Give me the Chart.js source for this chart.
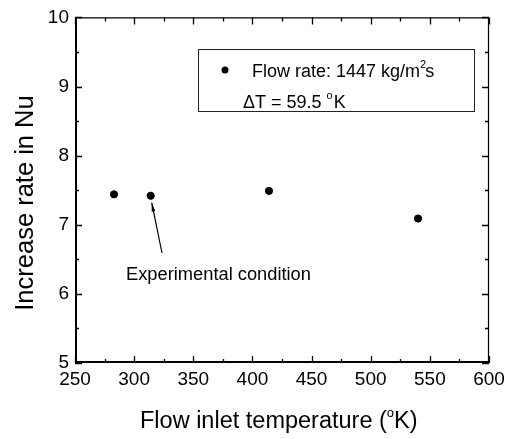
<!DOCTYPE html>
<html>
<head>
<meta charset="utf-8">
<script src="https://cdn.jsdelivr.net/npm/chart.js@4"></script>
<style>
html,body{margin:0;padding:0;background:#fff;}
#wrap{width:514px;height:439px;}
</style>
</head>
<body>
<div id="wrap"><canvas id="c" width="514" height="439"></canvas></div>
<script>
// Data
const inletTemperature = [283, 314, 414, 540];
const nuIncreaseRate = [7.44, 7.42, 7.49, 7.09];
const xTickLabels = [250, 300, 350, 400, 450, 500, 550, 600];
const yTickLabels = [5, 6, 7, 8, 9, 10];
const legendLines = ['Flow rate: 1447 kg/m', '\u0394T = 59.5 '];
const annotationText = 'Experimental condition';
const xTitle = 'Flow inlet temperature (';
const yTitle = 'Increase rate in Nu';

const FONT = '"Liberation Sans", Arial, sans-serif';
const CA = {left: 75, right: 489, top: 14, bottom: 363};

const framePlugin = {
  id: 'frame',
  afterDraw(chart) {
    const ctx = chart.ctx;
    const xs = chart.scales.x, ys = chart.scales.y;
    const L = xs.left, R = xs.right, T = ys.top, B = ys.bottom;
    ctx.save();
    ctx.strokeStyle = '#000';
    // frame
    ctx.lineWidth = 1.2;
    ctx.beginPath();
    ctx.moveTo(L, T + 0.5); ctx.lineTo(R, T + 0.5);
    ctx.moveTo(R - 0.5, T); ctx.lineTo(R - 0.5, B);
    ctx.stroke();
    ctx.lineWidth = 2;
    ctx.beginPath();
    ctx.moveTo(L + 1, T); ctx.lineTo(L + 1, B);
    ctx.moveTo(L, B - 1); ctx.lineTo(R, B - 1);
    ctx.stroke();
    // ticks
    ctx.lineWidth = 1.3;
    ctx.beginPath();
    for (let v = 250; v <= 600; v += 25) {
      const px = Math.round(xs.getPixelForValue(v)) + 0.5;
      const len = (v % 50 === 0) ? 7 : 4;
      ctx.moveTo(px, B); ctx.lineTo(px, B - len);
      ctx.moveTo(px, T); ctx.lineTo(px, T + len);
    }
    for (let v = 5; v <= 10; v += 0.5) {
      const py = Math.round(ys.getPixelForValue(v)) + 0.5;
      const len = (Math.abs(v - Math.round(v)) < 1e-6) ? 7 : 4;
      ctx.moveTo(L, py); ctx.lineTo(L + len, py);
      ctx.moveTo(R, py); ctx.lineTo(R - len, py);
    }
    ctx.stroke();

    // legend box
    ctx.lineWidth = 1;
    ctx.strokeStyle = '#222';
    ctx.strokeRect(198.5, 49.5, 276, 62);
    ctx.fillStyle = '#000';
    ctx.beginPath();
    ctx.arc(225, 70, 3.5, 0, Math.PI * 2);
    ctx.fill();
    ctx.font = '18px ' + FONT;
    ctx.textBaseline = 'alphabetic';
    ctx.textAlign = 'left';
    let x = 252, y = 77;
    ctx.fillText(legendLines[0], x, y);
    let w = ctx.measureText(legendLines[0]).width;
    ctx.font = '11px ' + FONT;
    ctx.fillText('2', x + w, y - 9);
    const w2 = ctx.measureText('2').width;
    ctx.font = '18px ' + FONT;
    ctx.fillText('s', x + w + w2 - 1, y);
    x = 243; y = 108;
    ctx.fillText(legendLines[1], x, y);
    w = ctx.measureText(legendLines[1]).width;
    ctx.font = '11px ' + FONT;
    ctx.fillText('o', x + w, y - 9);
    const wo = ctx.measureText('o').width;
    ctx.font = '18px ' + FONT;
    ctx.fillText('K', x + w + wo + 1, y);

    // annotation
    ctx.font = '18.3px ' + FONT;
    ctx.fillText(annotationText, 126, 280);
    const p = chart.getDatasetMeta(0).data[1];
    const tipX = p.x + 1, tipY = p.y + 7;
    const sx = 162, sy = 253;
    ctx.strokeStyle = '#000';
    ctx.lineWidth = 1.2;
    ctx.beginPath();
    ctx.moveTo(sx, sy); ctx.lineTo(tipX, tipY);
    ctx.stroke();
    const ang = Math.atan2(tipY - sy, tipX - sx);
    ctx.beginPath();
    ctx.moveTo(tipX, tipY);
    ctx.lineTo(tipX - 9 * Math.cos(ang - 0.2), tipY - 9 * Math.sin(ang - 0.2));
    ctx.lineTo(tipX - 9 * Math.cos(ang + 0.2), tipY - 9 * Math.sin(ang + 0.2));
    ctx.closePath();
    ctx.fill();

    // axis titles
    ctx.font = '23.5px ' + FONT;
    ctx.textAlign = 'left';
    x = 140; y = 428;
    ctx.fillText(xTitle, x, y);
    w = ctx.measureText(xTitle).width;
    ctx.font = '13px ' + FONT;
    ctx.fillText('o', x + w, y - 11);
    const wo2 = ctx.measureText('o').width;
    ctx.font = '23.5px ' + FONT;
    ctx.fillText('K)', x + w + wo2, y);

    ctx.save();
    ctx.translate(33, 203);
    ctx.rotate(-Math.PI / 2);
    ctx.textAlign = 'center';
    ctx.font = '25.5px ' + FONT;
    ctx.fillText(yTitle, 0, 0);
    ctx.restore();
    ctx.restore();
  }
};

new Chart(document.getElementById('c'), {
  type: 'scatter',
  data: {
    datasets: [{
      data: inletTemperature.map((t, i) => ({x: t, y: nuIncreaseRate[i]})),
      backgroundColor: '#000',
      borderColor: '#000',
      pointRadius: 3.6,
      pointHoverRadius: 3.6
    }]
  },
  options: {
    responsive: false,
    animation: false,
    devicePixelRatio: 1,
    layout: {padding: {left: 0, right: 514 - CA.right, top: CA.top, bottom: 0}},
    plugins: {legend: {display: false}, tooltip: {enabled: false}},
    scales: {
      x: {
        type: 'linear', min: 250, max: 600,
        afterFit(s) { s.height = 439 - CA.bottom; },
        afterBuildTicks(s) { s.ticks = xTickLabels.map(v => ({value: v})); },
        grid: {display: false, drawTicks: false},
        border: {display: false},
        ticks: {color: '#000', font: {family: FONT, size: 19}, padding: 5, maxRotation: 0, autoSkip: false}
      },
      y: {
        type: 'linear', min: 5, max: 10,
        afterFit(s) { s.width = CA.left; },
        afterBuildTicks(s) { s.ticks = yTickLabels.map(v => ({value: v})); },
        grid: {display: false, drawTicks: false},
        border: {display: false},
        ticks: {color: '#000', font: {family: FONT, size: 19}, padding: 6, autoSkip: false}
      }
    }
  },
  plugins: [framePlugin]
});
</script>
</body>
</html>
